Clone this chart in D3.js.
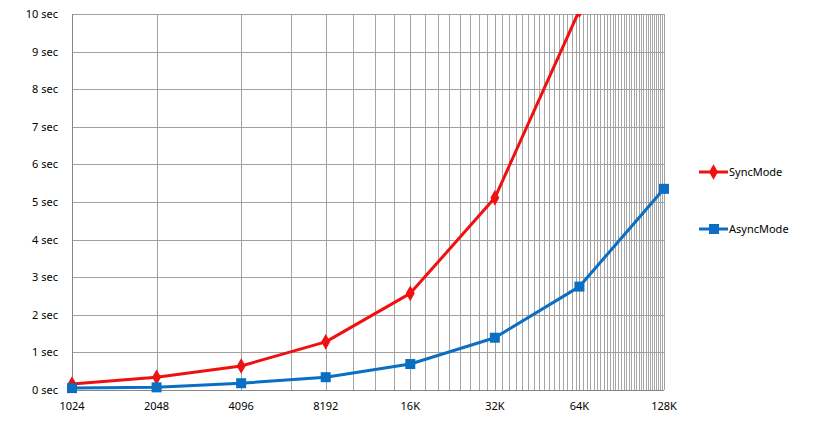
<!DOCTYPE html>
<html><head><meta charset="utf-8">
<script src="https://cdn.jsdelivr.net/npm/d3@7"></script>
<style>body{margin:0;background:#fff}svg{display:block}text{font-family:"Noto Sans",sans-serif;font-size:11px;fill:#000}</style>
</head><body><svg id="c" width="821" height="431"></svg>
<script>
const sizes = [1024, 2048, 4096, 8192, 16384, 32768, 65536, 131072];
const sizeLabels = ["1024", "2048", "4096", "8192", "16K", "32K", "64K", "128K"];
const syncMode = [0.16, 0.34, 0.64, 1.28, 2.57, 5.11, 10.1, null];
const asyncMode = [0.05, 0.07, 0.18, 0.34, 0.69, 1.39, 2.75, 5.35];
const yTicks = [0, 1, 2, 3, 4, 5, 6, 7, 8, 9, 10];
const yTickLabels = yTicks.map(v => v + " sec");
const xMinorStep = 2048;
const seriesNames = ["SyncMode", "AsyncMode"];
const seriesColors = ["#f01010", "#0a6fc2"];

const svg = d3.select("#c");
const L = 72, R = 664, T = 14, B = 390;
const x = d3.scaleLog().base(2).domain([1024, 131072]).range([L, R]);
const y = d3.scaleLinear().domain([0, 10]).range([B, T]);

const minor = d3.range(xMinorStep * 2, 131072, xMinorStep).filter(v => !sizes.includes(v));
svg.append("g").selectAll("line").data(minor).join("line")
  .attr("x1", d => Math.round(x(d)) + 0.5).attr("x2", d => Math.round(x(d)) + 0.5)
  .attr("y1", T).attr("y2", B).attr("stroke", "#a6a6a6").attr("stroke-width", 1);
svg.append("g").selectAll("line").data(sizes).join("line")
  .attr("x1", d => Math.round(x(d)) + 0.5).attr("x2", d => Math.round(x(d)) + 0.5)
  .attr("y1", T).attr("y2", B).attr("stroke", "#a0a0a0").attr("stroke-width", 1);
svg.append("g").selectAll("line").data(yTicks).join("line")
  .attr("x1", L).attr("x2", R)
  .attr("y1", d => Math.round(y(d)) + 0.5).attr("y2", d => Math.round(y(d)) + 0.5)
  .attr("stroke", d => d === 0 ? "#868686" : "#a0a0a0").attr("stroke-width", 1);
svg.append("line").attr("x1", L + 0.5).attr("x2", L + 0.5).attr("y1", T).attr("y2", B)
  .attr("stroke", "#868686");

svg.append("g").selectAll("text").data(yTicks).join("text")
  .attr("x", 58).attr("y", d => y(d) + 4).attr("text-anchor", "end")
  .text((d, i) => yTickLabels[i]);
svg.append("g").selectAll("text").data(sizes).join("text")
  .attr("x", d => x(d)).attr("y", 410).attr("text-anchor", "middle")
  .text((d, i) => sizeLabels[i]);

svg.append("defs").append("clipPath").attr("id", "plot")
  .append("rect").attr("x", L - 10).attr("y", T).attr("width", R - L + 20).attr("height", B - T + 10);

const plot = svg.append("g").attr("clip-path", "url(#plot)");
const line = d3.line().defined(d => d[1] != null).x(d => x(d[0])).y(d => y(d[1]));
const diamond = d3.symbol().type(d3.symbolDiamond).size(70);

function drawSeries(vals, color, marker) {
  const pts = sizes.map((s, i) => [s, vals[i]]);
  plot.append("path").datum(pts).attr("d", line).attr("fill", "none")
    .attr("stroke", color).attr("stroke-width", 3).attr("stroke-linejoin", "round");
  const m = plot.append("g").selectAll("g").data(pts.filter(p => p[1] != null)).join("g")
    .attr("transform", p => `translate(${x(p[0])},${y(p[1])})`);
  if (marker === "diamond") m.append("path").attr("d", diamond).attr("fill", color);
  else m.append("rect").attr("x", -5).attr("y", -5).attr("width", 10).attr("height", 10).attr("fill", color);
}
drawSeries(syncMode, seriesColors[0], "diamond");
drawSeries(asyncMode, seriesColors[1], "square");

const leg = svg.append("g");
const legY = [172, 229];
seriesNames.forEach((n, i) => {
  const g = leg.append("g").attr("transform", `translate(0,${legY[i]})`);
  g.append("line").attr("x1", 699).attr("x2", 728).attr("stroke", seriesColors[i]).attr("stroke-width", 3);
  if (i === 0) g.append("path").attr("transform", "translate(713.5,0)").attr("d", diamond).attr("fill", seriesColors[i]);
  else g.append("rect").attr("x", 709).attr("y", -5).attr("width", 10).attr("height", 10).attr("fill", seriesColors[i]);
  g.append("text").attr("x", 729).attr("y", 4).text(n);
});
</script></body></html>
